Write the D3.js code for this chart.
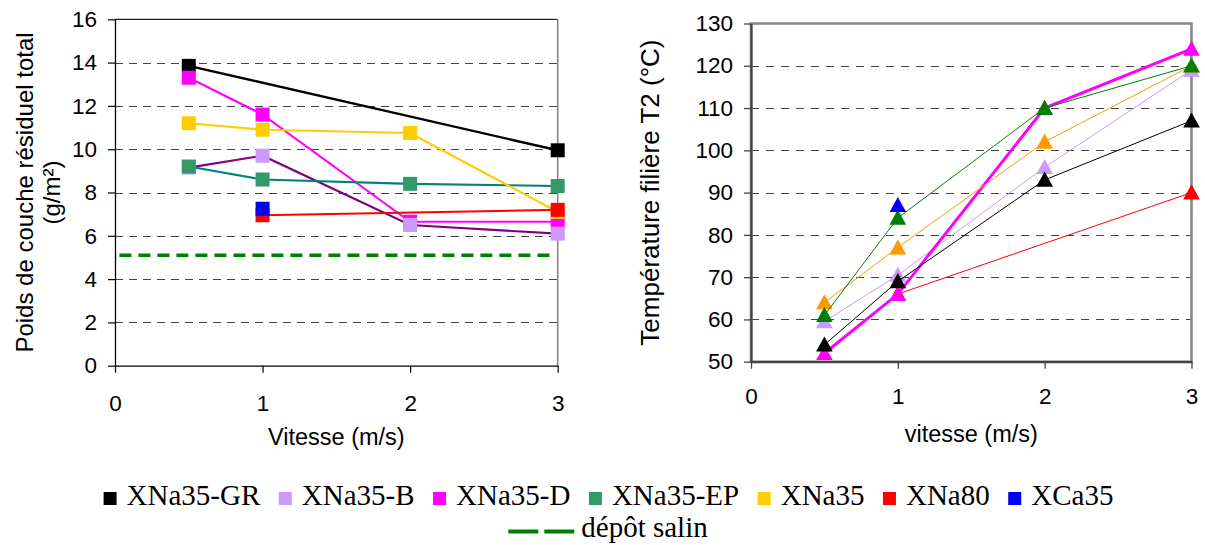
<!DOCTYPE html>
<html>
<head>
<meta charset="utf-8">
<script src="https://cdn.jsdelivr.net/npm/d3@7"></script>
<style>
  html, body { margin: 0; padding: 0; background: #fff; }
  svg { display: block; }
  text { font-family: "Liberation Sans", Arial, sans-serif; fill: #000; }
  .legend text { font-family: "Liberation Serif", "Times New Roman", serif; }
</style>
</head>
<body>
<svg id="chart" width="1205" height="545"></svg>
<script>
// ---------------- DATA ----------------
const seriesNames = ["XNa35-GR", "XNa35-B", "XNa35-D", "XNa35-EP", "XNa35", "XNa80", "XCa35"];
const speeds = [0.5, 1, 2, 3];
const speedTicks = [0, 1, 2, 3];

// Left chart: Poids de couche résiduel total (g/m²)
const poidsGR    = [13.85, null, null, 9.95];
const poidsB     = [9.15, 9.7, 6.5, 6.1];
const poidsD     = [13.3, 11.6, 6.65, 6.65];
const poidsEP    = [9.2, 8.6, 8.4, 8.3];
const poidsXNa35 = [11.2, 10.9, 10.75, 7.1];
const poidsXNa80 = [null, 6.95, null, 7.2];
const poidsXCa35 = [null, 7.25, null, null];
const depotLabel = "dépôt salin";
const depotX = [0.03, 2.96];
const depotY = [5.1, 5.1];
const poidsTicks = [0, 2, 4, 6, 8, 10, 12, 14, 16];

// Right chart: Température filière T2 (°C)
const tempGR    = [54, 69, 93, 107];
const tempB     = [59.5, 70.5, 96, 119];
const tempD     = [52, 66, 110, 124];
const tempEP    = [61, 84, 110, 120];
const tempXNa35 = [64, 77, 102, 120];
const tempXNa80 = [null, 66, null, 90];
const tempXCa35 = [null, 87, null, null];
const tempTicks = [50, 60, 70, 80, 90, 100, 110, 120, 130];

// ---------------- STYLES ----------------
const leftLineColors   = ["#000000", "#800080", "#FF00FF", "#008080", "#FFCC00", "#FF0000", "#0000FF"];
const leftMarkerColors = ["#000000", "#CC99FF", "#FF00FF", "#339966", "#FFCC00", "#FF0000", "#0000FF"];
const rightColors      = ["#000000", "#CC99FF", "#FF00FF", "#008000", "#FF9900", "#FF0000", "#0000FF"];
const rightWidths      = [1, 1, 3, 1, 1, 1, 1];
const leftOrder  = [0, 2, 1, 3, 4, 5, 6];
const rightOrder = [5, 1, 2, 0, 4, 3, 6];

const poidsSeries = [poidsGR, poidsB, poidsD, poidsEP, poidsXNa35, poidsXNa80, poidsXCa35];
const tempSeries  = [tempGR, tempB, tempD, tempEP, tempXNa35, tempXNa80, tempXCa35];

const svg = d3.select("#chart");
svg.append("rect").attr("width", 1205).attr("height", 545).attr("fill", "#fff");

function pts(vals) {
  return speeds.map((s, i) => [s, vals[i]]).filter(d => d[1] != null);
}

// custom triangle symbol
const triangleSym = {
  draw(ctx, size) {
    const w = Math.sqrt(size);
    ctx.moveTo(0, -w * 0.55);
    ctx.lineTo(w * 0.55, w * 0.45);
    ctx.lineTo(-w * 0.55, w * 0.45);
    ctx.closePath();
  }
};

// ================= LEFT CHART =================
(function () {
  const x = d3.scaleLinear().domain([0, 3]).range([115, 557.7]);
  const y = d3.scaleLinear().domain([0, 16]).range([365.7, 19.3]);
  const g = svg.append("g");

  g.selectAll("line.grid").data(poidsTicks.filter(t => t > 0 && t < 16)).join("line")
    .attr("x1", x(0)).attr("x2", x(3))
    .attr("y1", d => Math.round(y(d)) + 0.5).attr("y2", d => Math.round(y(d)) + 0.5)
    .attr("stroke", "#444").attr("stroke-width", 1).attr("stroke-dasharray", "8,6");

  g.append("line").attr("x1", x(0)).attr("x2", x(3)).attr("y1", y(16)).attr("y2", y(16))
    .attr("stroke", "#222").attr("stroke-width", 1.3);
  g.append("line").attr("x1", x(3)).attr("x2", x(3)).attr("y1", y(16)).attr("y2", y(0))
    .attr("stroke", "#888").attr("stroke-width", 1.6);

  const ya = g.append("g").attr("transform", `translate(${x(0)},0)`)
    .call(d3.axisLeft(y).tickValues(poidsTicks).tickSize(7).tickSizeOuter(0).tickPadding(11).tickFormat(d3.format("d")));
  const xa = g.append("g").attr("transform", `translate(0,${y(0)})`)
    .call(d3.axisBottom(x).tickValues(speedTicks).tickSize(7).tickSizeOuter(0).tickPadding(22).tickFormat(d3.format("d")));
  [ya, xa].forEach(a => {
    a.select(".domain").attr("stroke", "#000").attr("stroke-width", 1.3);
    a.selectAll(".tick line").attr("stroke", "#000").attr("stroke-width", 1.2);
    a.selectAll(".tick text").attr("font-size", 22.5).attr("font-family", "Liberation Sans, Arial, sans-serif").attr("fill", "#000");
  });

  g.append("path")
    .attr("d", d3.line().x(d => x(d[0])).y(d => y(d[1]))(depotX.map((v, i) => [v, depotY[i]])))
    .attr("stroke", "#008000").attr("stroke-width", 3.4).attr("fill", "none")
    .attr("stroke-dasharray", "12,7");

  const line = d3.line().x(d => x(d[0])).y(d => y(d[1]));
  leftOrder.forEach(k => {
    const p = pts(poidsSeries[k]);
    g.append("path").attr("d", line(p)).attr("fill", "none")
      .attr("stroke", leftLineColors[k]).attr("stroke-width", k === 0 ? 2.4 : 2.1);
    g.selectAll(null).data(p).join("rect")
      .attr("x", d => x(d[0]) - 7).attr("y", d => y(d[1]) - 7)
      .attr("width", 14).attr("height", 14)
      .attr("fill", leftMarkerColors[k]);
  });

  g.append("text").attr("transform", `translate(33,${(y(0) + y(16)) / 2}) rotate(-90)`)
    .attr("text-anchor", "middle").attr("font-size", 24).text("Poids de couche résiduel total");
  g.append("text").attr("transform", `translate(60,${(y(0) + y(16)) / 2}) rotate(-90)`)
    .attr("text-anchor", "middle").attr("font-size", 24).text("(g/m²)");
  g.append("text").attr("x", (x(0) + x(3)) / 2).attr("y", 445)
    .attr("text-anchor", "middle").attr("font-size", 23.5).text("Vitesse (m/s)");
})();

// ================= RIGHT CHART =================
(function () {
  const x = d3.scaleLinear().domain([0, 3]).range([751, 1191.5]);
  const y = d3.scaleLinear().domain([50, 130]).range([361.7, 23.5]);
  const g = svg.append("g");

  g.selectAll("line.grid").data(tempTicks.filter(t => t > 50 && t < 130)).join("line")
    .attr("x1", x(0)).attr("x2", x(3))
    .attr("y1", d => Math.round(y(d)) + 0.5).attr("y2", d => Math.round(y(d)) + 0.5)
    .attr("stroke", "#444").attr("stroke-width", 1).attr("stroke-dasharray", "8,7");

  g.append("rect").attr("x", x(0)).attr("y", y(130))
    .attr("width", x(3) - x(0)).attr("height", y(50) - y(130))
    .attr("fill", "none").attr("stroke", "#888").attr("stroke-width", 2.6);

  const ya = g.append("g").attr("transform", `translate(${x(0)},0)`)
    .call(d3.axisLeft(y).tickValues(tempTicks).tickSize(7).tickSizeOuter(0).tickPadding(11).tickFormat(d3.format("d")));
  const xa = g.append("g").attr("transform", `translate(0,${y(50)})`)
    .call(d3.axisBottom(x).tickValues(speedTicks).tickSize(7).tickSizeOuter(0).tickPadding(19).tickFormat(d3.format("d")));
  [ya, xa].forEach(a => {
    a.select(".domain").attr("stroke", "#444").attr("stroke-width", 2.2);
    a.selectAll(".tick line").attr("stroke", "#444").attr("stroke-width", 1.3);
    a.selectAll(".tick text").attr("font-size", 22.5).attr("font-family", "Liberation Sans, Arial, sans-serif").attr("fill", "#000");
  });

  const line = d3.line().x(d => x(d[0])).y(d => y(d[1]));
  const sym = d3.symbol().type(triangleSym).size(230);
  rightOrder.forEach(k => {
    const p = pts(tempSeries[k]);
    g.append("path").attr("d", line(p)).attr("fill", "none")
      .attr("stroke", rightColors[k]).attr("stroke-width", rightWidths[k]);
    g.selectAll(null).data(p).join("path")
      .attr("transform", d => `translate(${x(d[0])},${y(d[1])})`)
      .attr("d", sym).attr("fill", rightColors[k]);
  });

  g.append("text").attr("transform", `translate(659,${(y(50) + y(130)) / 2}) rotate(-90)`)
    .attr("text-anchor", "middle").attr("font-size", 26).text("Température filière T2 (°C)");
  g.append("text").attr("x", (x(0) + x(3)) / 2).attr("y", 442)
    .attr("text-anchor", "middle").attr("font-size", 23.5).text("vitesse (m/s)");
})();

// ================= LEGEND =================
(function () {
  const lg = svg.append("g").attr("class", "legend");
  const fs = 29, sq = 13, gapText = 10, gapItem = 18.5;
  const items = lg.selectAll("g.item").data(seriesNames).join("g");
  items.append("rect").attr("width", sq).attr("height", sq).attr("y", 492)
    .attr("fill", (d, i) => leftMarkerColors[i]);
  items.append("text").attr("x", sq + gapText).attr("y", 505).attr("font-size", fs).text(d => d);
  let widths = [];
  items.each(function () { widths.push(sq + gapText + this.querySelector("text").getComputedTextLength()); });
  const total = d3.sum(widths) + gapItem * (widths.length - 1);
  let cx = 608.5 - total / 2;
  items.each(function (d, i) {
    d3.select(this).attr("transform", `translate(${cx},0)`);
    cx += widths[i] + gapItem;
  });

  const r2 = lg.append("g");
  r2.append("line").attr("x1", 0).attr("x2", 66).attr("y1", 531.5).attr("y2", 531.5)
    .attr("stroke", "#008000").attr("stroke-width", 4).attr("stroke-dasharray", "30,6");
  const t2 = r2.append("text").attr("x", 73).attr("y", 537).attr("font-size", fs).text(depotLabel);
  const w2 = 73 + t2.node().getComputedTextLength();
  r2.attr("transform", `translate(${608 - w2 / 2},0)`);
})();
</script>
</body>
</html>
